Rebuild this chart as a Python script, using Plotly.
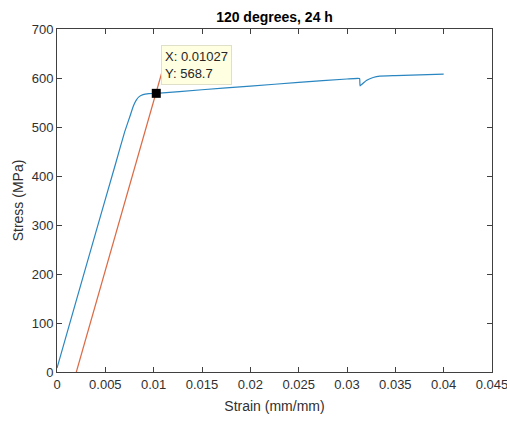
import plotly.graph_objects as go

# Measured stress-strain curve (blue)
strain = [0, 0.002, 0.004, 0.006, 0.0070, 0.0076, 0.0079, 0.0082, 0.0085, 0.0089,
          0.0095, 0.01027, 0.015, 0.020, 0.025, 0.030, 0.0313, 0.03135, 0.0320,
          0.0327, 0.0334, 0.035, 0.040]
stress = [8, 146, 284, 421, 490, 525, 543, 555, 562, 566, 568, 568.7, 576, 583.5,
          591, 598, 599, 584, 595, 601, 604, 605, 608]

# 0.2% offset line (orange)
offset_strain = [0.002, 0.0110]
offset_stress = [0, 622]

# Data tip
tip_x = 0.01027
tip_y = 568.7

x_ticks = [0, 0.005, 0.01, 0.015, 0.02, 0.025, 0.03, 0.035, 0.04, 0.045]
x_labels = ["0", "0.005", "0.01", "0.015", "0.02", "0.025", "0.03", "0.035", "0.04", "0.045"]
y_ticks = [0, 100, 200, 300, 400, 500, 600, 700]
y_labels = [str(v) for v in y_ticks]

font_family = "Liberation Sans, Arial, Helvetica, sans-serif"
axis_color = "#404040"

fig = go.Figure()
fig.add_trace(go.Scatter(x=strain, y=stress, mode="lines",
                         line=dict(color="#2a86c0", width=1.2, shape="spline",
                                   smoothing=0.3),
                         showlegend=False))
fig.add_trace(go.Scatter(x=offset_strain, y=offset_stress, mode="lines",
                         line=dict(color="#dc6a45", width=1.2), showlegend=False))
fig.add_trace(go.Scatter(x=[tip_x], y=[tip_y], mode="markers",
                         marker=dict(color="black", size=9, symbol="square"),
                         showlegend=False))

fig.add_annotation(x=tip_x, y=tip_y, xref="x", yref="y",
                   text=f"X: {tip_x}<br>Y: {tip_y}", showarrow=False,
                   xanchor="left", yanchor="bottom", xshift=5, yshift=8,
                   align="left", bgcolor="#FFFFE1", bordercolor="#E0E0C8",
                   borderwidth=1, borderpad=3,
                   font=dict(family=font_family, size=13, color="#262626"))

fig.update_layout(
    width=507, height=421,
    margin=dict(l=57, r=15, t=29, b=49, autoexpand=False),
    paper_bgcolor="white", plot_bgcolor="white",
    font=dict(family=font_family, size=13, color="#303030"),
    title=dict(text="<b>120 degrees, 24 h</b>", x=274.5 / 507, xanchor="center",
               y=1 - 17 / 421, yanchor="middle",
               font=dict(family=font_family, size=14, color="black")),
    xaxis=dict(range=[0, 0.045], tickvals=x_ticks, ticktext=x_labels,
               showgrid=False, zeroline=False, showline=True, linecolor=axis_color,
               linewidth=1, mirror="ticks", ticks="inside", ticklen=5,
               tickcolor=axis_color, ticklabeloverflow="allow", automargin=False,
               title=dict(text="Strain (mm/mm)", standoff=10, font=dict(size=14))),
    yaxis=dict(range=[0, 700], tickvals=y_ticks, ticktext=y_labels,
               showgrid=False, zeroline=False, showline=True, linecolor=axis_color,
               linewidth=1, mirror="ticks", ticks="inside", ticklen=5,
               tickcolor=axis_color, automargin=False,
               title=dict(text="Stress (MPa)", standoff=4, font=dict(size=14))),
)

fig.write_html("out.html")
